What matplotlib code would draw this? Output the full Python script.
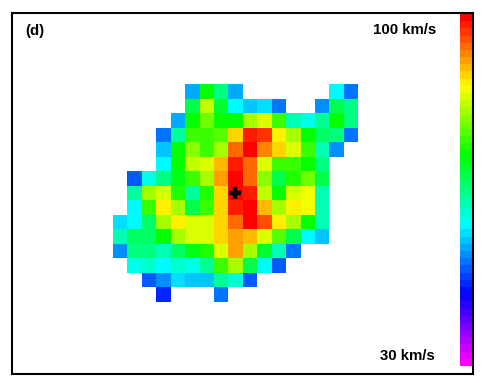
import numpy as np
import matplotlib
matplotlib.use("Agg")
import matplotlib.pyplot as plt
from matplotlib.colors import LinearSegmentedColormap, Normalize

_ = None
# Velocity in km/s per map cell, top row first (None = no data)
row00 = [_,_,_,_,_,53.3,72.0,65.0,53.3,_,_,_,_,_,_,58.0,50.5]
row01 = [_,_,_,_,_,68.5,82.5,69.7,58.5,54.5,56.8,50.3,_,_,52.2,67.3,65.0]
row02 = [_,_,_,_,53.3,72.5,77.8,72.5,72.0,80.2,84.1,74.3,61.5,59.2,63.8,72.0,65.0]
row03 = [_,_,_,50.5,63.8,74.3,75.5,76.7,87.9,97.7,96.5,86.5,80.2,72.0,66.2,65.0,51.0]
row04 = [_,_,_,55.7,72.0,79.0,75.5,81.3,93.0,98.8,92.5,88.3,84.1,74.3,61.5,51.5,_]
row05 = [_,_,_,58.0,72.0,82.5,83.2,88.8,98.1,93.5,83.2,75.5,75.5,72.5,65.0,_,_]
row06 = [_,49.1,59.2,65.0,70.8,75.5,80.2,91.1,100.0,93.5,79.0,68.5,73.2,77.8,67.3,_,_]
row07 = [_,63.8,80.2,83.7,73.2,63.8,73.2,87.9,98.8,97.7,82.5,72.0,83.2,85.5,62.7,_,_]
row08 = [_,58.0,75.5,86.0,81.3,68.5,74.3,88.3,97.7,100.0,89.5,80.2,86.0,84.8,62.7,_,_]
row09 = [56.4,58.0,66.2,80.2,86.5,84.1,84.1,88.3,93.5,100.0,95.3,86.0,80.2,72.5,61.5,_,_]
row10 = [61.5,66.2,66.2,72.5,80.2,83.7,83.2,88.3,90.7,88.8,84.1,76.7,67.3,58.5,55.2,_,_]
row11 = [51.5,65.5,65.5,62.7,66.2,70.8,73.9,83.7,90.2,80.2,69.7,62.7,50.5,_,_,_,_]
row12 = [_,59.9,60.8,58.0,60.3,59.9,63.8,74.8,80.2,67.3,58.0,49.8,_,_,_,_,_]
row13 = [_,_,49.8,52.2,56.8,54.5,54.5,63.8,60.3,48.7,_,_,_,_,_,_,_]
row14 = [_,_,_,46.8,_,_,_,51.0,_,_,_,_,_,_,_,_,_]
rows = [row00,row01,row02,row03,row04,row05,row06,row07,row08,row09,
        row10,row11,row12,row13,row14]

v_min, v_max = 30, 100
label_top = "100 km/s"
label_bottom = "30 km/s"
panel = "(d)"
center_col, center_row = 8.48, 7.5

W, H = 491, 383
plt.rcParams['font.family'] = ['Liberation Sans', 'DejaVu Sans']
fig = plt.figure(figsize=(W/100, H/100), dpi=100)

# rainbow: magenta -> blue -> cyan -> green -> yellow -> red
cmap = LinearSegmentedColormap.from_list(
    "vel", ["#ff00ff", "#0000ff", "#00ffff", "#00ff00", "#ffff00", "#ff0000"], N=49)
norm = Normalize(v_min, v_max)

L, R, T, B = 12.3, 473.2, 13.0, 373.7
ax = fig.add_axes([L/W, 1-B/H, (R-L)/W, (B-T)/H])
px, py = 14.43, 14.51
x0, y0 = 113.0, 84.3
data = np.array([[np.nan if c is None else c for c in r] for r in rows], dtype=float)
ny, nx = data.shape
ax.pcolormesh(np.arange(nx+1), np.arange(ny+1), np.ma.masked_invalid(data),
              cmap=cmap, norm=norm, shading='flat', zorder=1)
ax.set_xlim((L-x0)/px, (R-x0)/px)
ax.set_ylim((B-y0)/py, (T-y0)/py)
ax.set_xticks([]); ax.set_yticks([])
for s in ax.spines.values():
    s.set_linewidth(1.5); s.set_color('#000000'); s.set_zorder(5)
ax.patch.set_alpha(0)
ax.plot([center_col], [center_row], marker='+', ms=9, mew=3.2, color='black', zorder=4)

cax = fig.add_axes([460/W, 1-366/H, 13/W, 352/H], zorder=-1)
cax.imshow(np.linspace(v_max, v_min, 49)[:, None], cmap=cmap, norm=norm,
           aspect='auto', interpolation='nearest')
cax.axis('off')

tkw = dict(transform=fig.transFigure, fontweight='bold', fontsize=10.8, color='#000000', va='center')
fig.text(25/W, 1-30.5/H, panel, ha='left', **tkw)
fig.text(436.5/W, 1-30.5/H, label_top, ha='right', **tkw)
fig.text(434.5/W, 1-355.5/H, label_bottom, ha='right', **tkw)
fig.savefig("out.png", dpi=100)
